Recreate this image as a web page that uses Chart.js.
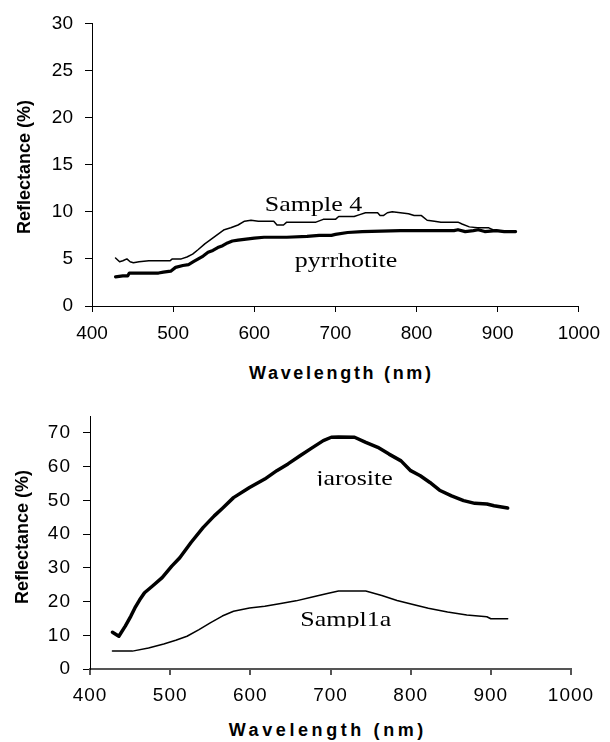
<!DOCTYPE html>
<html>
<head>
<meta charset="utf-8">
<script src="https://cdn.jsdelivr.net/npm/chart.js@4.4.0/dist/chart.umd.min.js"></script>
<style>
    body { margin: 0; background: #fff; }
    #page { position: relative; width: 610px; height: 742px; overflow: hidden; background: #fff; }
    .box { position: absolute; left: 0; width: 610px; }
    .title { position: absolute; font-family: "Liberation Sans", Arial, sans-serif; font-weight: bold;
             font-size: 18px; color: #000; white-space: nowrap; line-height: 1; }
</style>
</head>
<body>
<div id="page">
    <div class="box" style="top:0;height:360px"><canvas id="topChart" width="610" height="360"></canvas></div>
    <div class="box" style="top:390px;height:330px"><canvas id="bottomChart" width="610" height="330"></canvas></div>

    <div class="title" style="left:24px;top:167px;transform:translate(-50%,-50%) rotate(-90deg)">Reflectance (%)</div>
    <div class="title" style="left:340px;top:373px;letter-spacing:2.7px;padding-left:2.7px;transform:translate(-50%,-50%)">Wavelength (nm)</div>
    <div class="title" style="left:22px;top:537px;transform:translate(-50%,-50%) rotate(-90deg)">Reflectance (%)</div>
    <div class="title" style="left:326px;top:730px;letter-spacing:3.6px;padding-left:3.6px;transform:translate(-50%,-50%)">Wavelength (nm)</div>
</div>
<script>
// Top panel: Sample 4 vs pyrrhotite
const sample4Nm = [429, 434, 438, 443, 447, 451, 458, 470, 485, 496, 499, 510, 517, 524, 531, 539, 547, 555, 563, 571,
    580, 588, 596, 605, 615, 624, 628, 636, 640, 660, 676, 685, 700, 704, 723, 730, 737, 752, 755, 759,
    764, 770, 780, 790, 797, 806, 813, 822, 830, 851, 856, 865, 875, 889, 894, 903, 922];
const sample4Refl = [5.1, 4.7, 4.8, 5.0, 4.7, 4.6, 4.7, 4.8, 4.8, 4.8, 5.0, 5.0, 5.2, 5.5, 6.0, 6.6, 7.1, 7.6, 8.1, 8.3,
    8.6, 9.0, 9.1, 9.0, 9.0, 9.0, 8.6, 8.6, 8.9, 8.9, 8.9, 9.2, 9.2, 9.5, 9.5, 9.7, 9.9, 9.9, 9.6, 9.6,
    9.9, 10.0, 9.9, 9.8, 9.6, 9.6, 9.1, 9.0, 8.9, 8.9, 8.7, 8.4, 8.3, 8.3, 8.1, 8.0, 8.0];

const pyrrhotiteNm = [429, 438, 444, 446, 460, 482, 488, 497, 503, 512, 519, 525, 531, 537, 543, 549, 555, 561, 567, 573,
    580, 590, 600, 612, 640, 665, 680, 695, 700, 715, 733, 780, 846, 851, 860, 870, 876, 884, 898, 908, 922];
const pyrrhotiteRefl = [3.1, 3.2, 3.2, 3.5, 3.5, 3.5, 3.6, 3.7, 4.1, 4.3, 4.4, 4.7, 5.0, 5.3, 5.7, 5.9, 6.2, 6.4, 6.7, 6.9,
    7.0, 7.1, 7.2, 7.3, 7.3, 7.4, 7.5, 7.5, 7.6, 7.8, 7.9, 8.0, 8.0, 8.1, 7.9, 8.0, 8.1, 7.9, 8.0, 7.9, 7.9];

// Bottom panel: jarosite vs Sampl1a
const jarositeNm = [428, 436, 444, 451, 456, 462, 468, 478, 490, 502, 512, 526, 541, 555, 565, 579, 599, 618, 633, 647,
    662, 676, 691, 701, 710, 730, 744, 759, 773, 788, 800, 812, 824, 836, 851, 866, 880, 895, 904, 921];
const jarositeRefl = [10.9, 9.7, 12.7, 15.7, 18.1, 20.5, 22.6, 24.6, 27.1, 30.5, 33.0, 37.5, 41.9, 45.4, 47.6, 50.8, 53.8, 56.3, 58.8, 60.8,
    63.2, 65.4, 67.7, 68.7, 68.8, 68.7, 67.2, 65.7, 63.7, 61.7, 58.8, 57.3, 55.3, 53.0, 51.3, 49.9, 49.1, 48.9, 48.4, 47.7];

const sample1aNm = [428, 453, 473, 492, 507, 521, 536, 550, 565, 579, 599, 618, 638, 657, 676, 696, 710, 744, 764, 783,
    803, 822, 846, 870, 895, 900, 921];
const sample1aRefl = [5.3, 5.3, 6.2, 7.4, 8.5, 9.7, 11.7, 13.7, 15.7, 17.1, 18.1, 18.6, 19.4, 20.2, 21.3, 22.4, 23.1, 23.1, 21.8, 20.3,
    19.1, 18.0, 16.9, 16.0, 15.5, 14.9, 14.9];

// Axis ranges and tick values
const wavelengthRange = [400, 1000];
const wavelengthTicks = [400, 500, 600, 700, 800, 900, 1000];
const topReflRange = [0, 30];
const topReflTicks = [0, 5, 10, 15, 20, 25, 30];
const bottomReflRange = [0, 75];
const bottomReflTicks = [0, 10, 20, 30, 40, 50, 60, 70];

// Curve names, placed in data coordinates
const topLabels = [
    { text: 'Sample 4', nm: 673, refl: 10.1, clip: false },
    { text: 'pyrrhotite', nm: 713, refl: 4.15, clip: false }
];
const bottomLabels = [
    { text: 'jarosite', nm: 730, refl: 54.6, clip: true },
    { text: 'Sampl1a', nm: 719, refl: 12.6, clip: true }
];

function toPoints(xs, ys) {
    return xs.map((x, i) => ({ x: x, y: ys[i] }));
}

const tickFont = { family: '"Liberation Sans", Arial, sans-serif', size: 19 };

// Draws the curve names in a stretched Times-like face
function curveLabelPlugin(labels) {
    return {
        id: 'curveLabels',
        afterDatasetsDraw(chart) {
            const ctx = chart.ctx;
            const xs = chart.scales.x, ys = chart.scales.y;
            labels.forEach(l => {
                const px = xs.getPixelForValue(l.nm);
                const py = ys.getPixelForValue(l.refl);
                ctx.save();
                ctx.letterSpacing = '0px';
                ctx.translate(px, py);
                ctx.scale(1.18, 1);
                if (l.clip) {
                    ctx.beginPath();
                    ctx.rect(-80, -40, 160, 41);
                    ctx.clip();
                }
                ctx.font = '22px "Liberation Serif", "Times New Roman", serif';
                ctx.fillStyle = '#000';
                ctx.textAlign = 'center';
                ctx.textBaseline = 'alphabetic';
                ctx.fillText(l.text, 0, 0);
                ctx.restore();
            });
        }
    };
}

function spacingPlugin(px) {
    return {
        id: 'letterSpacing',
        beforeDraw(chart) { chart.ctx.letterSpacing = px; }
    };
}

function makeChart(canvasId, opts) {
    const ctx = document.getElementById(canvasId).getContext('2d');
    return new Chart(ctx, {
        type: 'line',
        data: { datasets: opts.datasets },
        options: {
            responsive: false,
            animation: false,
            devicePixelRatio: 1,
            layout: { padding: opts.padding },
            plugins: { legend: { display: false }, tooltip: { enabled: false } },
            elements: { point: { radius: 0 }, line: { tension: 0, borderJoinStyle: 'round', borderCapStyle: 'round' } },
            scales: {
                x: {
                    type: 'linear',
                    min: wavelengthRange[0],
                    max: wavelengthRange[1],
                    afterBuildTicks: s => { s.ticks = wavelengthTicks.map(v => ({ value: v })); },
                    ticks: {
                        autoSkip: false, maxRotation: 0,
                        color: '#000', font: tickFont, padding: opts.xPad,
                        callback: v => String(v)
                    },
                    grid: { drawOnChartArea: false, drawTicks: true, tickLength: 6, color: opts.xColor, lineWidth: opts.xWidth },
                    border: { display: true, color: opts.xColor, width: opts.xWidth },
                    afterFit: s => { s.height = opts.xHeight; }
                },
                y: {
                    min: opts.yRange[0],
                    max: opts.yRange[1],
                    afterBuildTicks: s => { s.ticks = opts.yTicks.map(v => ({ value: v })); },
                    ticks: {
                        autoSkip: false,
                        color: '#000', font: tickFont, padding: 12,
                        callback: v => String(v)
                    },
                    grid: { drawOnChartArea: false, drawTicks: true, tickLength: 7, color: '#000', lineWidth: 1 },
                    border: { display: true, color: '#000', width: 1 },
                    afterFit: s => { s.width = opts.yWidth; }
                }
            }
        },
        plugins: opts.plugins
    });
}

makeChart('topChart', {
    datasets: [
        { label: 'Sample 4', data: toPoints(sample4Nm, sample4Refl), borderColor: '#000', borderWidth: 1.5 },
        { label: 'pyrrhotite', data: toPoints(pyrrhotiteNm, pyrrhotiteRefl), borderColor: '#000', borderWidth: 3.2 }
    ],
    padding: { top: 21, right: 24, left: 0, bottom: 0 },
    yRange: topReflRange, yTicks: topReflTicks,
    yWidth: 92, xHeight: 54, xPad: 10,
    xColor: '#000', xWidth: 1,
    plugins: [curveLabelPlugin(topLabels)]
});

makeChart('bottomChart', {
    datasets: [
        { label: 'jarosite', data: toPoints(jarositeNm, jarositeRefl), borderColor: '#000', borderWidth: 3.5 },
        { label: 'Sampl1a', data: toPoints(sample1aNm, sample1aRefl), borderColor: '#000', borderWidth: 1.5 }
    ],
    padding: { top: 26, right: 39, left: 0, bottom: 0 },
    yRange: bottomReflRange, yTicks: bottomReflTicks,
    yWidth: 90, xHeight: 51, xPad: 9,
    xColor: '#555', xWidth: 2,
    plugins: [spacingPlugin('1px'), curveLabelPlugin(bottomLabels)]
});
</script>
</body>
</html>
